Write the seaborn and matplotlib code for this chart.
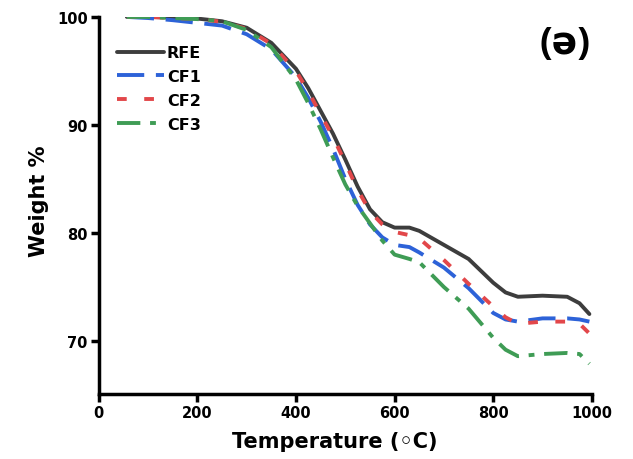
import matplotlib
matplotlib.use("Agg")
import matplotlib.pyplot as plt
import seaborn as sns
import pandas as pd

temperature = [57, 100, 150, 200, 250, 300, 350, 400, 425, 450, 475, 500, 525, 550, 575, 600,
               630, 650, 700, 750, 800, 825, 850, 900, 950, 975, 995]
rfe = [100.0, 100.0, 99.95, 99.85, 99.6, 99.0, 97.6, 95.2, 93.4, 91.3, 89.2, 86.8, 84.3, 82.2, 81.0, 80.5,
       80.5, 80.2, 78.9, 77.6, 75.4, 74.5, 74.1, 74.2, 74.1, 73.5, 72.5]
cf1 = [100.0, 99.9, 99.7, 99.45, 99.2, 98.4, 97.0, 94.4, 92.5, 90.3, 87.8, 85.0, 82.6, 80.8, 79.6, 78.9,
       78.7, 78.2, 76.8, 74.9, 72.6, 72.0, 71.8, 72.1, 72.1, 72.0, 71.8]
cf2 = [100.0, 100.0, 99.9, 99.8, 99.55, 98.9, 97.5, 95.0, 93.1, 91.0, 88.9, 86.5, 84.0, 82.0, 80.8, 80.1,
       79.8, 79.5, 77.5, 75.3, 73.2, 72.2, 71.6, 71.8, 71.8, 71.6, 70.7]
cf3 = [100.0, 100.0, 99.9, 99.8, 99.6, 98.8, 97.2, 94.2, 92.0, 89.6, 87.0, 84.5, 82.5, 80.9, 79.3, 78.0,
       77.6, 77.3, 75.0, 73.0, 70.3, 69.2, 68.6, 68.8, 68.9, 68.8, 67.9]

series = {"RFE": rfe, "CF1": cf1, "CF2": cf2, "CF3": cf3}
colors = {"RFE": "#3d3d3d", "CF1": "#2d62d8", "CF2": "#e2474a", "CF3": "#3f9c55"}
dashes = {"RFE": "-", "CF1": (0, (7, 3)), "CF2": (0, (2.5, 4.5)), "CF3": (0, (6, 2.5, 1.5, 2.5))}

sns.set_style("white")
plt.rcParams['font.family'] = ['DejaVu Sans']
for k in ["text.color", "axes.labelcolor", "xtick.color", "ytick.color", "axes.edgecolor"]:
    plt.rcParams[k] = "black"

fig = plt.figure(figsize=(6.33, 4.6), dpi=100)
ax = fig.add_axes([0.156, 0.1413, 0.779, 0.8197])

for name, vals in series.items():
    df = pd.DataFrame({"T": temperature, "W": vals})
    sns.lineplot(data=df, x="T", y="W", ax=ax, color=colors[name], linewidth=2.8,
                 linestyle=dashes[name], label=name, sort=True)

ax.set_xlim(0, 1000)
ax.set_ylim(65.1, 100)
ax.set_xticks([0, 200, 400, 600, 800, 1000])
ax.set_yticks([70, 80, 90, 100])
for s in ["top", "right"]:
    ax.spines[s].set_visible(False)
for s in ["left", "bottom"]:
    ax.spines[s].set_linewidth(2.5)
    ax.spines[s].set_color("black")
ax.tick_params(axis="both", direction="out", length=6, width=2.5, color="black",
               labelsize=10.5, pad=2, bottom=True, left=True, labelcolor="black")
for lab in ax.get_xticklabels() + ax.get_yticklabels():
    lab.set_fontweight("bold")

ax.set_xlabel("Temperature (\u25e6C)", fontsize=15, fontweight="bold")
ax.set_ylabel("Weight %", fontsize=15, fontweight="bold")
ax.xaxis.set_label_coords(0.479, -0.098)
ax.yaxis.set_label_coords(-0.10, 0.515)

leg = ax.legend(loc="upper left", bbox_to_anchor=(0.038, 0.925), frameon=False,
                prop={"weight": "bold", "size": 11.5}, handlelength=2.9, handletextpad=0.2,
                labelspacing=0.55, borderaxespad=0, borderpad=0)

fig.text(0.893, 0.905, "(\u0259)", fontsize=27, fontweight="bold", ha="center", va="center",
         family=["Open Sans", "DejaVu Sans"])

fig.savefig("out.png", dpi=100, facecolor="white")
